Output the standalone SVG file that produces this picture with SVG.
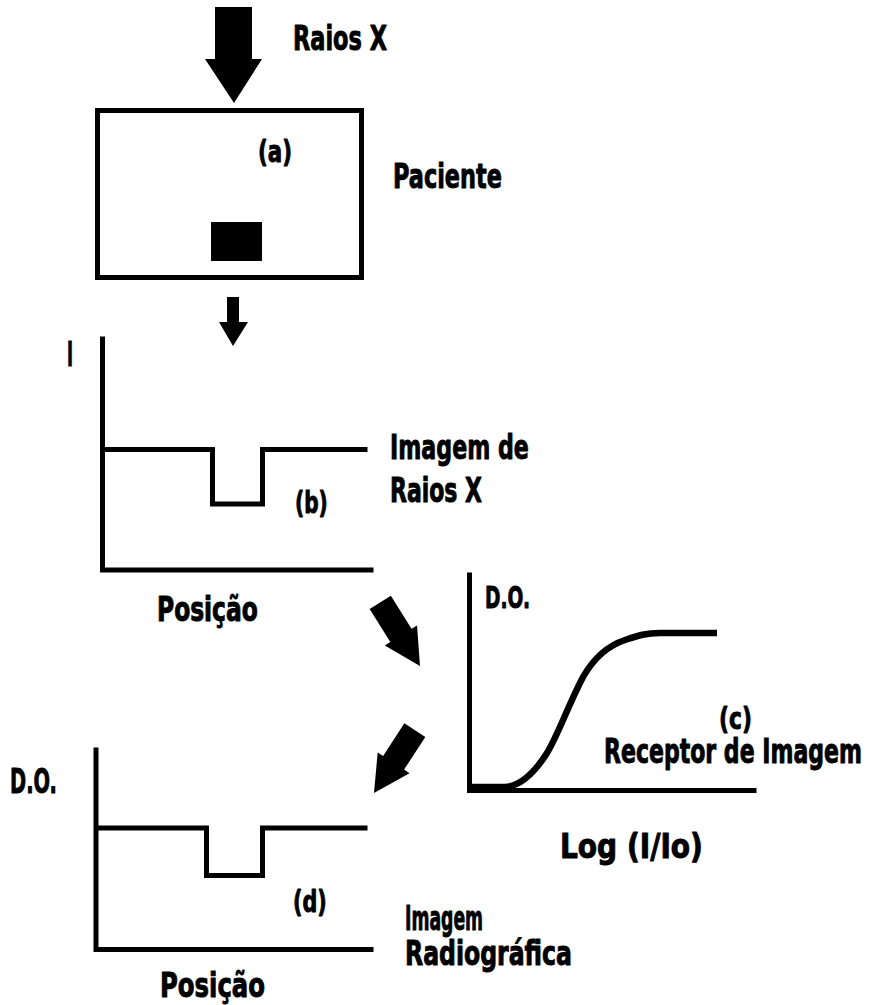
<svg xmlns="http://www.w3.org/2000/svg" width="870" height="1005" viewBox="0 0 870 1005">
<style>
.t{font-family:"DejaVu Sans","Liberation Sans",sans-serif;font-weight:bold;fill:#000;stroke:#000;stroke-width:1;stroke-linejoin:round}
.ln{fill:none;stroke:#000;stroke-width:5;stroke-linecap:square;stroke-linejoin:miter}
.ar{fill:#000}
</style>
<defs>
<polygon id="diag" points="-75,-12.5 -36,-12.5 -36,-19 0,0 -36,19 -36,12.5 -75,12.5"/>
</defs>
<rect width="870" height="1005" fill="#fff"/>

<g id="connectors">
<polygon class="ar" points="215,7 252,7 252,59 262,59 234,103 205,59 215,59"/>
<polygon class="ar" points="227,297 239,297 239,322 248,322 233,346 219,322 227,322"/>
<use href="#diag" transform="translate(420,666) rotate(58)"/>
<use href="#diag" transform="translate(374,793) rotate(123)"/>
</g>

<g id="label-raios">
<text class="t" transform="translate(293,50) scale(0.662,1)" font-size="34" textLength="142" lengthAdjust="spacingAndGlyphs">Raios X</text>
</g>

<g id="paciente">
<rect x="97.5" y="110.5" width="264" height="167" fill="none" stroke="#000" stroke-width="5"/>
<rect x="211" y="222" width="51" height="39" fill="#000"/>
<text class="t" transform="translate(258,162) scale(0.69,1)" font-size="31" textLength="49.3" lengthAdjust="spacingAndGlyphs">(a)</text>
<text class="t" transform="translate(393,188) scale(0.656,1)" font-size="34" textLength="166" lengthAdjust="spacingAndGlyphs">Paciente</text>
</g>

<g id="graph-b">
<polyline class="ln" points="102.5,339 102.5,570 371,570"/>
<polyline class="ln" points="103,449.5 212.5,449.5 212.5,504 262.5,504 262.5,449.5 365,449.5"/>
<text class="t" transform="translate(67,366) scale(0.48,1)" font-size="34" textLength="12.6" lengthAdjust="spacingAndGlyphs">I</text>
<text class="t" transform="translate(295,513) scale(0.67,1)" font-size="30" textLength="49" lengthAdjust="spacingAndGlyphs">(b)</text>
<text class="t" transform="translate(390,459) scale(0.652,1)" font-size="34" textLength="213" lengthAdjust="spacingAndGlyphs">Imagem de</text>
<text class="t" transform="translate(390,502) scale(0.648,1)" font-size="34" textLength="142" lengthAdjust="spacingAndGlyphs">Raios X</text>
<text class="t" transform="translate(157,621) scale(0.71,1)" font-size="33" textLength="142" lengthAdjust="spacingAndGlyphs">Posição</text>
</g>

<g id="graph-c">
<polyline class="ln" points="469.5,575 469.5,790.5 754,790.5"/>
<path d="M472,787 L505,787 C520,786 535,772 547,753 C558,735 567,708 583,677 C595,656 610,645 625,640 C637,636 645,633 660,633 L717,633" fill="none" stroke="#000" stroke-width="6.5"/>
<text class="t" transform="translate(485,608) scale(0.62,1)" font-size="30" textLength="72.6" lengthAdjust="spacingAndGlyphs">D.O.</text>
<text class="t" transform="translate(719,729) scale(0.73,1)" font-size="30" textLength="45" lengthAdjust="spacingAndGlyphs">(c)</text>
<text class="t" transform="translate(604,763) scale(0.648,1)" font-size="34" textLength="398" lengthAdjust="spacingAndGlyphs">Receptor de Imagem</text>
<text class="t" transform="translate(560,858) scale(0.826,1)" font-size="34" textLength="173" lengthAdjust="spacingAndGlyphs">Log (I/Io)</text>
</g>

<g id="graph-d">
<polyline class="ln" points="96,750 96,949.5 371,949.5"/>
<polyline class="ln" points="96.5,828 206.5,828 206.5,875.5 262.5,875.5 262.5,828 365,828"/>
<text class="t" transform="translate(10,793) scale(0.566,1)" font-size="34" textLength="83" lengthAdjust="spacingAndGlyphs">D.O.</text>
<text class="t" transform="translate(293,912) scale(0.69,1)" font-size="30" textLength="49" lengthAdjust="spacingAndGlyphs">(d)</text>
<text class="t" transform="translate(405,930) scale(0.507,1)" font-size="34" textLength="154" lengthAdjust="spacingAndGlyphs">Imagem</text>
<text class="t" transform="translate(405,965) scale(0.69,1)" font-size="34" textLength="242" lengthAdjust="spacingAndGlyphs">Radiográfica</text>
<text class="t" transform="translate(160,997) scale(0.714,1)" font-size="34" textLength="147" lengthAdjust="spacingAndGlyphs">Posição</text>
</g>
</svg>
